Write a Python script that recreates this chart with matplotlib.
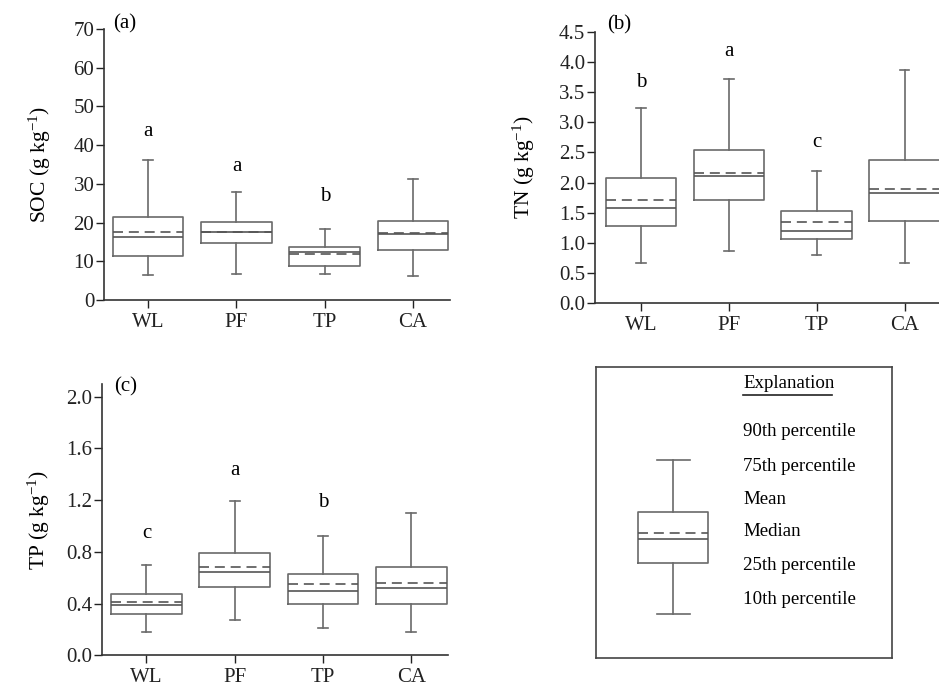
import matplotlib
matplotlib.use("Agg")
import matplotlib.pyplot as plt

plt.rcParams['font.family'] = ['Liberation Serif', 'DejaVu Serif']
plt.rcParams['mathtext.fontset'] = 'custom'
plt.rcParams['mathtext.rm'] = 'Liberation Serif'

# land use categories
sites = ['WL', 'PF', 'TP', 'CA']

# SOC (g/kg): 10th, 25th, median, mean, 75th, 90th
soc_p10 = [6.4, 6.7, 6.7, 6.3]
soc_q1 = [11.4, 14.8, 8.8, 12.9]
soc_med = [16.2, 17.7, 12.3, 17.0]
soc_mean = [17.6, 17.5, 11.8, 17.4]
soc_q3 = [21.4, 20.2, 13.8, 20.3]
soc_p90 = [36.2, 27.9, 18.3, 31.3]
soc_letters = ['a', 'a', 'b', '']
soc_letter_y = [43.5, 34.6, 26.7, 0]

# TN (g/kg)
tn_p10 = [0.66, 0.87, 0.80, 0.66]
tn_q1 = [1.28, 1.71, 1.07, 1.37]
tn_med = [1.58, 2.11, 1.20, 1.83]
tn_mean = [1.72, 2.16, 1.35, 1.90]
tn_q3 = [2.07, 2.54, 1.53, 2.37]
tn_p90 = [3.24, 3.72, 2.19, 3.86]
tn_letters = ['b', 'a', 'c', '']
tn_letter_y = [3.66, 4.17, 2.66, 0]

# TP (g/kg)
tp_p10 = [0.18, 0.275, 0.21, 0.18]
tp_q1 = [0.32, 0.53, 0.40, 0.40]
tp_med = [0.386, 0.64, 0.50, 0.52]
tp_mean = [0.41, 0.68, 0.55, 0.56]
tp_q3 = [0.47, 0.79, 0.63, 0.68]
tp_p90 = [0.70, 1.19, 0.92, 1.10]
tp_letters = ['c', 'a', 'b', '']
tp_letter_y = [0.94, 1.43, 1.18, 0]

# explanation box (schematic values)
legend_stats = [0.150, 0.327, 0.410, 0.428, 0.501, 0.680]
legend_labels = ['90th percentile', '75th percentile', 'Mean', 'Median',
                 '25th percentile', '10th percentile']
legend_label_y = [0.778, 0.658, 0.543, 0.434, 0.316, 0.199]

box_col = '#6a6a6a'
fs = 15


def make_stats(p10, q1, med, mean, q3, p90):
    out = []
    for i in range(len(p10)):
        out.append({'whislo': p10[i], 'q1': q1[i], 'med': med[i], 'mean': mean[i],
                    'q3': q3[i], 'whishi': p90[i], 'fliers': []})
    return out


def draw_boxes(ax, stats, positions, width, capw):
    ax.bxp(stats, positions=positions, widths=width, capwidths=capw,
           showmeans=True, meanline=True, showfliers=False,
           boxprops=dict(color=box_col, linewidth=1.2),
           whiskerprops=dict(color=box_col, linewidth=1.2),
           capprops=dict(color=box_col, linewidth=1.2),
           medianprops=dict(color='#555555', linewidth=1.2),
           meanprops=dict(color='#555555', linewidth=1.2, linestyle=(0, (6, 3.5))))


def panel(ax, stats, letters, letter_y, ylim, yticks, yfmt, ylabel, tag, tagpos, labx, xlim):
    pos = list(range(1, len(sites) + 1))
    draw_boxes(ax, stats, pos, 0.8, 0.11)
    for i in range(len(sites)):
        if letters[i]:
            ax.text(pos[i], letter_y[i], letters[i], ha='center', va='center', fontsize=fs)
    ax.set_xlim(*xlim)
    ax.set_ylim(*ylim)
    ax.set_yticks(yticks)
    ax.set_yticklabels([yfmt.format(t) for t in yticks])
    ax.set_xticks(pos)
    ax.set_xticklabels(sites)
    ax.tick_params(direction='out', length=6, width=1, labelsize=fs, colors='#222222')
    ax.tick_params(axis='x', pad=3)
    ax.tick_params(axis='y', pad=1)
    for s in ['top', 'right']:
        ax.spines[s].set_visible(False)
    for s in ['left', 'bottom']:
        ax.spines[s].set_color('#333333')
        ax.spines[s].set_linewidth(1.2)
    ax.set_ylabel(ylabel, fontsize=15.5)
    ax.yaxis.set_label_coords(labx, 0.5)
    ax.text(tagpos[0], tagpos[1], tag, transform=ax.transAxes, fontsize=fs, va='center', ha='left')


fig = plt.figure(figsize=(9.39, 6.85), dpi=100)

ax1 = fig.add_axes([0.1108, 0.562, 0.3685, 0.3956])
panel(ax1, make_stats(soc_p10, soc_q1, soc_med, soc_mean, soc_q3, soc_p90),
      soc_letters, soc_letter_y, (0, 70), list(range(0, 71, 10)), '{:.0f}',
      'SOC (g kg$\\mathregular{^{-1}}$)', '(a)', (0.026, 1.018), -0.147, (0.5, 4.42))

ax2 = fig.add_axes([0.6337, 0.5572, 0.3717, 0.3965])
panel(ax2, make_stats(tn_p10, tn_q1, tn_med, tn_mean, tn_q3, tn_p90),
      tn_letters, tn_letter_y, (0, 4.5), [i * 0.5 for i in range(10)], '{:.1f}',
      'TN (g kg$\\mathregular{^{-1}}$)', '(b)', (0.034, 1.025), -0.167, (0.48, 4.45))

ax3 = fig.add_axes([0.1089, 0.0434, 0.3685, 0.3965])
panel(ax3, make_stats(tp_p10, tp_q1, tp_med, tp_mean, tp_q3, tp_p90),
      tp_letters, tp_letter_y, (0, 2.1), [i * 0.4 for i in range(6)], '{:.1f}',
      'TP (g kg$\\mathregular{^{-1}}$)', '(c)', (0.035, 0.988), -0.144, (0.5, 4.42))

# explanation panel
ax4 = fig.add_axes([0.6347, 0.0399, 0.3156, 0.424])
for s in ax4.spines.values():
    s.set_color('#444444')
    s.set_linewidth(1.2)
lo, q1, med, mean, q3, hi = legend_stats
draw_boxes(ax4, [{'whislo': lo, 'q1': q1, 'med': med, 'mean': mean, 'q3': q3,
                  'whishi': hi, 'fliers': []}], [0.261], 0.236, 0.11)
ax4.set_xlim(0, 1)
ax4.set_ylim(0, 1)
ax4.set_xticks([])
ax4.set_yticks([])
ax4.text(0.497, 0.943, 'Explanation', fontsize=13.6, ha='left', va='center')
ax4.plot([0.497, 0.795], [0.905, 0.905], color='#222222', linewidth=1.2)
for lab, yy in zip(legend_labels, legend_label_y):
    ax4.text(0.497, yy, lab, fontsize=13.6, ha='left', va='center')

fig.savefig('out.png', dpi=100)
